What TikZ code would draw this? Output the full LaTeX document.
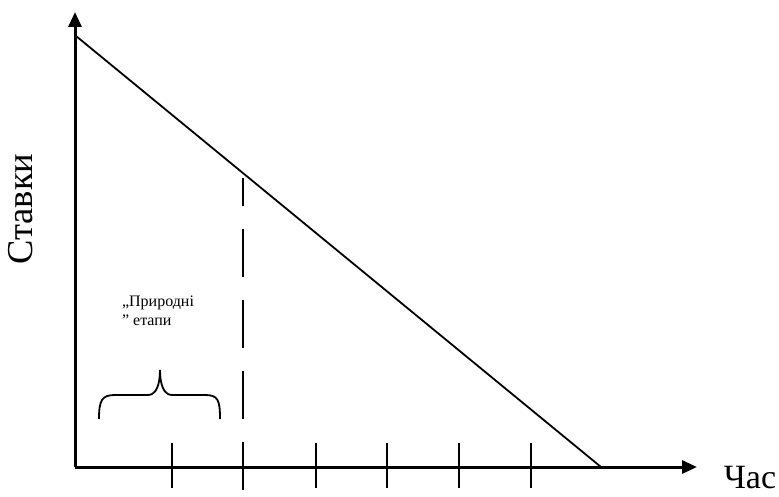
\documentclass[tikz,border=0pt]{standalone}
\usepackage{fontspec}
\setmainfont{Liberation Serif}
\usetikzlibrary{arrows.meta}

\begin{document}
\begin{tikzpicture}[x=1pt,y=-1pt,>={Triangle[length=15pt,width=13pt]}]
  \useasboundingbox (0,0) rectangle (779,497);
  \coordinate (o) at (75,467);
  \coordinate (ytop) at (75,12);
  \coordinate (xend) at (697,467);
  \draw[line width=3pt,->] (o) -- (ytop);
  \draw[line width=3pt,->] (o) -- (xend);
  % spadna pryama
  \coordinate (ls) at (76,36);
  \coordinate (le) at (601,467);
  \draw[line width=1.8pt] (ls) -- (le);
  % podilky
  \foreach \x in {172,243,316,387,459,531}
    \draw[line width=1.8pt] (\x,443) -- (\x,488);
  \coordinate (db) at (243,490);
  \coordinate (dt) at (243,178);
  \draw[line width=1.8pt,dash pattern=on 48pt off 23pt] (db) -- (dt);
  % duzhka
  \draw[line width=1.8pt] (99,419) .. controls (99,400) and (102,395) .. (115,395) -- (148,395)
    .. controls (156,395) and (160,385) .. (160,370)
    .. controls (160,385) and (164,395) .. (172,395) -- (205,395)
    .. controls (218,395) and (220,400) .. (220,419);
  \node[align=left,font=\fontsize{16}{19}\selectfont] (etapy) at (158,311) {„Природні\\” етапи};
  \node[rotate=90,font=\fontsize{36.5}{40}\selectfont] (stavky) at (21,209) {Ставки};
  \node[font=\fontsize{34}{40}\selectfont,inner sep=0pt,anchor=base] (chas) at (750,488) {Час};
\end{tikzpicture}
\end{document}
